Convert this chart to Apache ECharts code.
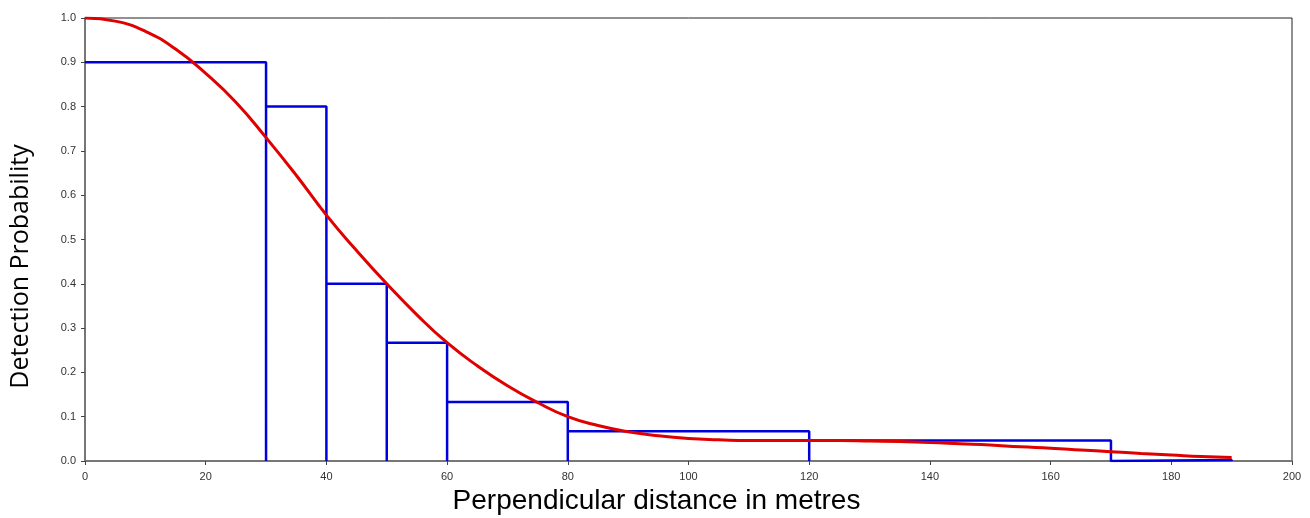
<!DOCTYPE html>
<html>
<head>
<meta charset="utf-8">
<script src="https://cdn.jsdelivr.net/npm/echarts@6/dist/echarts.min.js"></script>
<style>
  html, body { margin: 0; padding: 0; background: #fff; }
  #main { width: 1310px; height: 518px; }
</style>
</head>
<body>
<div id="main"></div>
<script>
// histogram bins (edges in metres) and heights
var binEdges = [0, 30, 40, 50, 60, 80, 120, 170, 190];
var binHeights = [0.9, 0.8, 0.4, 0.267, 0.133, 0.067, 0.046, 0.002];

var curveX = [0, 5, 10, 15, 20, 25, 30, 35, 40, 45, 50, 55, 60, 65, 70, 75, 80, 85, 90, 95,
              100, 105, 110, 115, 120, 125, 130, 135, 140, 145, 150, 155, 160, 165, 170, 175, 180, 185, 190];
var curveY = [1.0, 0.993, 0.97, 0.93, 0.875, 0.81, 0.73, 0.645, 0.555, 0.475, 0.40, 0.33, 0.267, 0.215, 0.17, 0.132, 0.10, 0.08, 0.066, 0.057,
              0.051, 0.048, 0.046, 0.046, 0.046, 0.046, 0.045, 0.044, 0.042, 0.039, 0.036, 0.032, 0.029, 0.025, 0.021, 0.017, 0.0135, 0.010, 0.008];

var yTicks = ['0.0', '0.1', '0.2', '0.3', '0.4', '0.5', '0.6', '0.7', '0.8', '0.9', '1.0'];

// outline of the histogram bars (first bar's left side sits on the axis)
var histPts = [[binEdges[0], binHeights[0]]];
for (var i = 0; i < binHeights.length; i++) {
    if (i > 0) {
        histPts.push([binEdges[i], 0]);
        histPts.push([binEdges[i], binHeights[i]]);
    }
    histPts.push([binEdges[i + 1], binHeights[i]]);
    histPts.push([binEdges[i + 1], 0]);
}
var curvePts = curveX.map(function (x, k) { return [x, curveY[k]]; });

var myChart = echarts.init(document.getElementById('main'));

var option = {
    animation: false,
    backgroundColor: '#fff',
    grid: {
        left: 85, right: 18, top: 18, bottom: 57,
        outerBoundsMode: 'none',
        show: true, borderColor: '#222', borderWidth: 1
    },
    xAxis: {
        type: 'value', min: 0, max: 200, interval: 20,
        name: 'Perpendicular distance in metres',
        nameLocation: 'middle', nameGap: 25,
        nameTextStyle: { fontSize: 28, color: '#000', fontFamily: 'Liberation Sans', padding: [0, 64, 0, 0] },
        axisLine: { show: true, lineStyle: { color: '#777', width: 2 } },
        axisTick: { show: true, length: 4, lineStyle: { color: '#444' } },
        axisLabel: { fontSize: 11, color: '#333', fontFamily: 'Liberation Sans', margin: 10 },
        splitLine: { show: false }
    },
    yAxis: {
        type: 'value', min: 0, max: 1, interval: 0.1,
        name: 'Detection Probability',
        nameLocation: 'middle', nameGap: 52,
        nameTextStyle: { fontSize: 25, color: '#000', fontFamily: 'Open Sans', padding: [0, 54, 0, 0] },
        axisLine: { show: true, lineStyle: { color: '#777', width: 2 } },
        axisTick: { show: true, length: 4, lineStyle: { color: '#444' } },
        axisLabel: {
            fontSize: 11, color: '#333', fontFamily: 'Liberation Sans', margin: 9,
            formatter: function (v) { return yTicks[Math.round(v * 10)]; }
        },
        splitLine: { show: false }
    },
    series: [
        {
            name: 'histogram',
            type: 'line',
            data: histPts,
            symbol: 'none',
            lineStyle: { color: '#0000dd', width: 2.5 },
            z: 2
        },
        {
            name: 'detection function',
            type: 'line',
            data: curvePts,
            smooth: true,
            symbol: 'none',
            lineStyle: { color: '#e00000', width: 3 },
            z: 3
        }
    ]
};

myChart.setOption(option);
</script>
</body>
</html>
